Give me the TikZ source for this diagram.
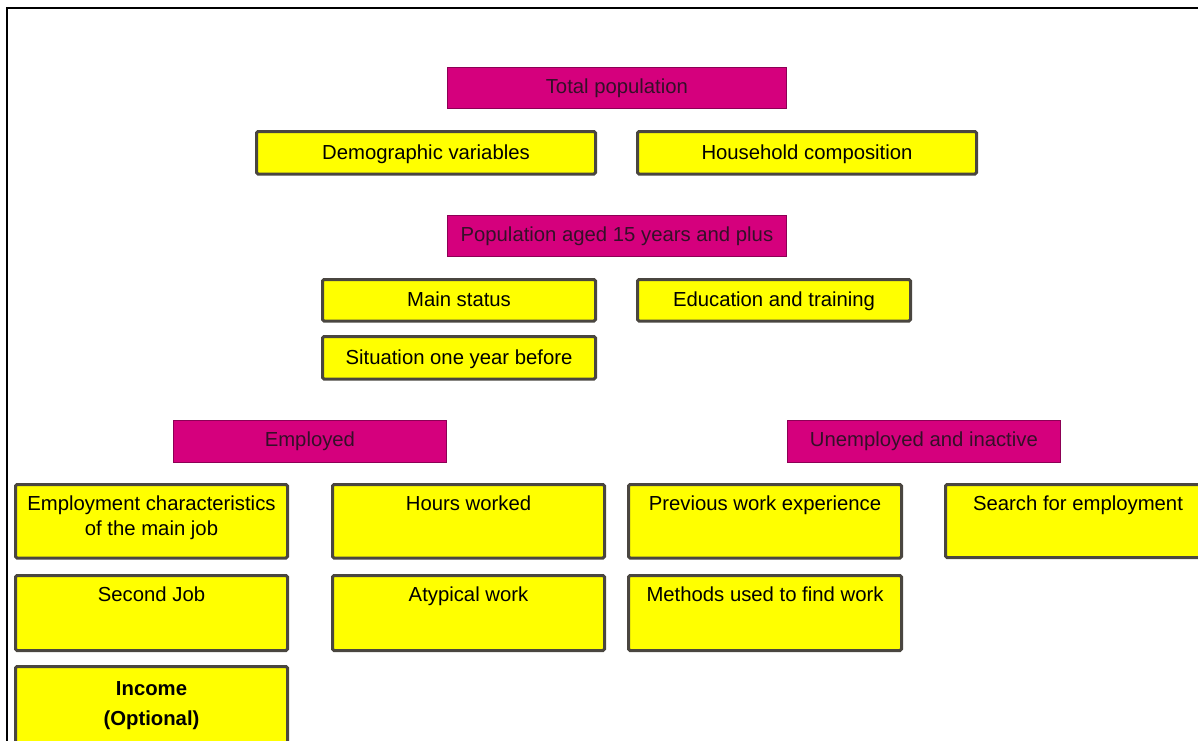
\documentclass[tikz,border=0pt]{standalone}
\usepackage{fontspec}
\setmainfont{Liberation Sans}
\definecolor{boxyellow}{HTML}{FFFF00}
\definecolor{boxedge}{HTML}{4A4640}
\definecolor{headfill}{HTML}{D5007D}
\definecolor{headedge}{HTML}{8C0055}
\definecolor{headtext}{HTML}{341028}
\tikzset{
  ybox/.style={draw=boxedge, line width=3pt, fill=boxyellow, rounded corners=1.5pt,
    inner sep=0pt, anchor=north west},
  hbox/.style={draw=headedge, line width=0.8pt, fill=headfill, inner sep=0pt,
    anchor=north west},
  txt/.style={font=\fontsize{20.3}{25}\selectfont, align=center, inner sep=0pt},
  midtxt/.style={txt, text height=14.6pt, text depth=4.4pt},
  ymid/.style={midtxt, yshift=-1.5pt},
  toptxt/.style={txt, anchor=north, yshift=-13pt},
}
\begin{document}
\begin{tikzpicture}[x=1pt,y=-1pt]
\useasboundingbox (0,0) rectangle (1198,740);
\begin{scope}
\clip (0,0) rectangle (1198,740);

% outer frame (left and top edges)
\coordinate (frameBL) at (7,745);
\coordinate (frameTL) at (7,8);
\coordinate (frameTR) at (1205,8);
\draw[line width=2.2pt, black] (frameBL) -- (frameTL) -- (frameTR);

% headings
\node[hbox, minimum width=339pt, minimum height=41pt] (total) at (447,67) {};
\node[midtxt, text=headtext] at (total.center) {Total population};

\node[hbox, minimum width=339pt, minimum height=41pt] (aged) at (447,215) {};
\node[midtxt, text=headtext] at (aged.center) {Population aged 15 years and plus};

\node[hbox, minimum width=273pt, minimum height=42pt] (employed) at (173,420) {};
\node[midtxt, text=headtext] at (employed.center) {Employed};

\node[hbox, minimum width=273pt, minimum height=42pt] (unemp) at (787,420) {};
\node[midtxt, text=headtext] at (unemp.center) {Unemployed and inactive};

% variable blocks, whole population
\node[ybox, minimum width=339pt, minimum height=42.5pt] (demo) at (255,130) {};
\node[ymid] at (demo.center) {Demographic variables};

\node[ybox, minimum width=339pt, minimum height=42.5pt] (house) at (636,130) {};
\node[ymid] at (house.center) {Household composition};

% variables, population aged 15+
\node[ybox, minimum width=273pt, minimum height=41.5pt] (status) at (321,278) {};
\node[ymid] at (status.center) {Main status};

\node[ybox, minimum width=273pt, minimum height=41.5pt] (edu) at (636,278) {};
\node[ymid] at (edu.center) {Education and training};

\node[ybox, minimum width=273pt, minimum height=42.5pt] (situ) at (321,335) {};
\node[ymid] at (situ.center) {Situation one year before};

% variables, employed
\node[ybox, minimum width=272pt, minimum height=73.5pt] (charac) at (14,483) {};
\node[toptxt] at (charac.north) {Employment characteristics\\of the main job};

\node[ybox, minimum width=272pt, minimum height=73.5pt] (hours) at (331,483) {};
\node[toptxt] at (hours.north) {Hours worked};

\node[ybox, minimum width=272pt, minimum height=75pt] (second) at (14,574) {};
\node[toptxt] at (second.north) {Second Job};

\node[ybox, minimum width=272pt, minimum height=75pt] (atyp) at (331,574) {};
\node[toptxt] at (atyp.north) {Atypical work};

\node[ybox, minimum width=272pt, minimum height=90pt] (income) at (14,665) {};
\node[txt, font=\fontsize{20.3}{30}\selectfont\bfseries, anchor=north, yshift=-16pt]
  at (income.north) {Income\\(Optional)};

% variables, unemployed and inactive
\node[ybox, minimum width=273pt, minimum height=73.5pt] (prev) at (627,483) {};
\node[toptxt] at (prev.north) {Previous work experience};

\node[ybox, minimum width=273pt, minimum height=75pt] (methods) at (627,574) {};
\node[toptxt] at (methods.north) {Methods used to find work};

\node[ybox, minimum width=270pt, minimum height=73pt] (search) at (944,483) {};
\coordinate (searchtop) at (1078,483);
\node[toptxt] at (searchtop) {Search for employment};
\end{scope}
\end{tikzpicture}
\end{document}
